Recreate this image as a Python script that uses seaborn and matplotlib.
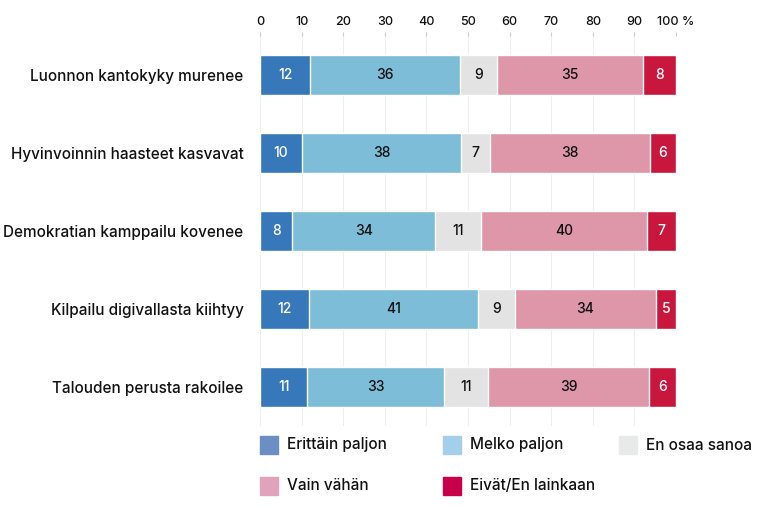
import numpy as np
import pandas as pd
import matplotlib
matplotlib.use("Agg")
import matplotlib.pyplot as plt
import seaborn as sns
from matplotlib.patches import Rectangle

# data (prosentit, luettu kuvasta; näytetyt luvut pyöristetty)
kategoriat = ["Luonnon kantokyky murenee", "Hyvinvoinnin haasteet kasvavat",
              "Demokratian kamppailu kovenee", "Kilpailu digivallasta kiihtyy",
              "Talouden perusta rakoilee"]
sarjat = ["Erittäin paljon", "Melko paljon", "En osaa sanoa", "Vain vähän", "Eivät/En lainkaan"]
erittain = [12.0, 10.1, 7.7, 11.8, 11.3]
melko = [36.1, 38.2, 34.4, 40.6, 32.9]
en_osaa = [8.9, 7.0, 11.0, 8.9, 10.6]
vain = [35.1, 38.4, 39.9, 33.9, 38.8]
eivat = [7.9, 6.3, 7.0, 4.8, 6.4]
tick_labels = ["0", "10", "20", "30", "40", "50", "60", "70", "80", "90", "100 %"]

bar_colors = ["#3678ba", "#7dbdd7", "#e3e3e3", "#dd97a9", "#c8163d"]
leg_colors = ["#6b8fc5", "#a3cfea", "#e8e9e9", "#e0a3bb", "#c8004a"]
txt_colors = ["white", "#111111", "#111111", "#111111", "white"]

sns.set_style("white")
plt.rcParams["font.family"] = ["Inter", "DejaVu Sans"]
plt.rcParams["font.weight"] = "medium"

arvot = np.array([erittain, melko, en_osaa, vain, eivat])
kum = arvot.cumsum(axis=0)

fig = plt.figure(figsize=(7.74, 5.08), dpi=100)
ax = fig.add_axes([0.336, 0.1614, 0.8734 - 0.336, 0.929 - 0.1614])

# pinotut palkit: kumulatiiviset summat suurimmasta alkaen
for i in range(len(sarjat) - 1, -1, -1):
    df = pd.DataFrame({"kat": kategoriat, "arvo": kum[i]})
    sns.barplot(data=df, x="arvo", y="kat", color=bar_colors[i], orient="h",
                width=0.51, saturation=1, ax=ax, zorder=2)

for i in range(len(sarjat)):
    for j in range(len(kategoriat)):
        ax.text(kum[i, j] - arvot[i, j] / 2, j, "%.0f" % arvot[i, j], ha="center", va="center",
                fontsize=10, color=txt_colors[i], zorder=3, fontweight="medium")

ax.set_xlim(0, 100)
ax.set_ylim(4.5, -0.5)
ax.set_xticks(range(0, 101, 10))
ax.set_xticklabels(tick_labels, fontsize=9, color="#111111", fontweight="medium")
ax.xaxis.tick_top()
ax.tick_params(axis="x", length=3, color="#cccccc", pad=3)
ax.tick_params(axis="y", length=0, pad=12, labelsize=11)
ax.set_xlabel("")
ax.set_ylabel("")
for s in ax.spines.values():
    s.set_visible(False)
ax.grid(axis="x", color="#eeeeee", linewidth=0.8, zorder=0)
ax.set_axisbelow(True)
for lab in ax.get_yticklabels():
    lab.set_color("#111111")
    lab.set_fontweight("medium")

# selite
leg_pos = [(260, 445), (443, 445), (619, 445), (260, 486), (443, 486)]
for (px, py), nimi, c in zip(leg_pos, sarjat, leg_colors):
    fig.patches.append(Rectangle((px / 774, 1 - (py + 9) / 508), 18 / 774, 18 / 508,
                                 transform=fig.transFigure, color=c, figure=fig))
    fig.text((px + 27) / 774, 1 - py / 508, nimi, fontsize=11, va="center", ha="left",
             color="#111111", fontweight="medium")

fig.savefig("out.png", dpi=100)
